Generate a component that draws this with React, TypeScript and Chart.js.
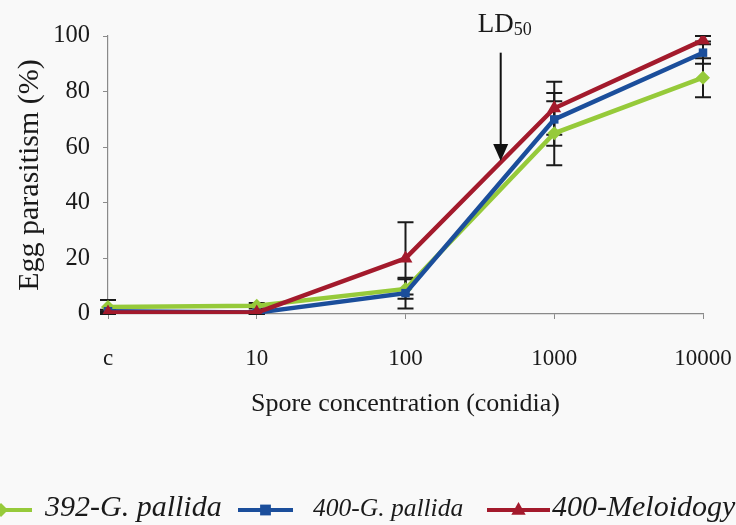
import React, { useEffect, useRef } from "react";
import { Chart, registerables } from "chart.js";

Chart.register(...registerables);

const FONT = '"Liberation Serif", "Times New Roman", serif';

// ---- data ----
const categories = ["c", "10", "100", "1000", "10000"];
const seriesNames = ["392-G. pallida", "400-G. pallida", "400-Meloidogyne"];
const green392 = [2.5, 3, 9, 65, 85];
const blue400 = [1, 0.5, 7.5, 70, 94];
const red400M = [0.5, 0.5, 20, 74, 98.5];
const errGreen = [2.5, 1, 3.5, 11.5, 7];
const errBlue = [0.5, 0.5, 5.5, 9.5, 4];
const errRed = [0.5, 0.5, 13, 9.5, 1.5];
const yMin = 0;
const yMax = 100;
const yStep = 20;
// LD50 annotation: position along category index and value range of arrow
const ld50Index = 2.64;
const ld50ArrowFrom = 94;
const ld50ArrowTo = 55;
const ld50TextValue = 101.5;

const colors = ["#96CA3A", "#1B4E9B", "#A31A2C"];
const pointStyles = ["rectRot", "rect", "triangle"];
const pointRadii = [7, 6, 8];
const seriesValues = [green392, blue400, red400M];
const seriesErrors = [errGreen, errBlue, errRed];

// legend layout (x of line start, line length, font size)
const legendLineStart = [-30, 238, 487];
const legendLineLen = [62, 55, 63];
const legendTextGap = [13, 20, 2];
const legendFontSize = [30, 25.5, 30];
const legendY = 510;

function drawMarker(ctx: CanvasRenderingContext2D, style: string, x: number, y: number, r: number, color: string) {
  ctx.save();
  ctx.fillStyle = color;
  ctx.beginPath();
  if (style === "rectRot") {
    ctx.moveTo(x, y - r);
    ctx.lineTo(x + r, y);
    ctx.lineTo(x, y + r);
    ctx.lineTo(x - r, y);
  } else if (style === "rect") {
    const s = r * 0.9;
    ctx.rect(x - s, y - s, 2 * s, 2 * s);
  } else {
    ctx.moveTo(x, y - r);
    ctx.lineTo(x + r * 0.9, y + r * 0.6);
    ctx.lineTo(x - r * 0.9, y + r * 0.6);
  }
  ctx.closePath();
  ctx.fill();
  ctx.restore();
}

const errorBarPlugin = {
  id: "errorBars",
  beforeDatasetsDraw(chart: any) {
    const ctx = chart.ctx as CanvasRenderingContext2D;
    const xs = chart.scales.x;
    const ys = chart.scales.y;
    ctx.save();
    ctx.strokeStyle = "#1a1a1a";
    ctx.lineWidth = 2;
    seriesValues.forEach((vals, i) => {
      vals.forEach((v, j) => {
        const e = seriesErrors[i][j];
        if (!e) return;
        const x = xs.getPixelForValue(j);
        const yt = ys.getPixelForValue(v + e);
        const yb = ys.getPixelForValue(v - e);
        ctx.beginPath();
        ctx.moveTo(x, yt);
        ctx.lineTo(x, yb);
        ctx.moveTo(x - 8, yt);
        ctx.lineTo(x + 8, yt);
        ctx.moveTo(x - 8, yb);
        ctx.lineTo(x + 8, yb);
        ctx.stroke();
      });
    });
    ctx.restore();
  },
};

const annotationPlugin = {
  id: "ld50",
  afterDraw(chart: any) {
    const ctx = chart.ctx as CanvasRenderingContext2D;
    const xs = chart.scales.x;
    const ys = chart.scales.y;
    const x = xs.getPixelForValue(ld50Index);
    const y1 = ys.getPixelForValue(ld50ArrowFrom);
    const y2 = ys.getPixelForValue(ld50ArrowTo);
    ctx.save();
    ctx.strokeStyle = "#111";
    ctx.fillStyle = "#111";
    ctx.lineWidth = 2;
    ctx.beginPath();
    ctx.moveTo(x, y1);
    ctx.lineTo(x, y2 - 14);
    ctx.stroke();
    ctx.beginPath();
    ctx.moveTo(x - 7.5, y2 - 17);
    ctx.lineTo(x + 7.5, y2 - 17);
    ctx.lineTo(x, y2);
    ctx.closePath();
    ctx.fill();
    // label
    const ty = ys.getPixelForValue(ld50TextValue);
    ctx.font = `27px ${FONT}`;
    ctx.textBaseline = "alphabetic";
    const w1 = ctx.measureText("LD").width;
    ctx.font = `18px ${FONT}`;
    const w2 = ctx.measureText("50").width;
    const sx = x - (w1 + w2) / 2 + 4;
    ctx.font = `27px ${FONT}`;
    ctx.fillStyle = "#1a1a1a";
    ctx.fillText("LD", sx, ty);
    ctx.font = `18px ${FONT}`;
    ctx.fillText("50", sx + w1, ty + 3);
    ctx.restore();
  },
};

const legendPlugin = {
  id: "customLegend",
  afterDraw(chart: any) {
    const ctx = chart.ctx as CanvasRenderingContext2D;
    ctx.save();
    chart.data.datasets.forEach((ds: any, i: number) => {
      const x0 = legendLineStart[i];
      const x1 = x0 + legendLineLen[i];
      ctx.strokeStyle = ds.borderColor;
      ctx.lineWidth = 4;
      ctx.beginPath();
      ctx.moveTo(x0, legendY);
      ctx.lineTo(x1, legendY);
      ctx.stroke();
      drawMarker(ctx, pointStyles[i], (x0 + x1) / 2, legendY, pointRadii[i], ds.borderColor);
      ctx.fillStyle = "#1a1a1a";
      ctx.font = `italic ${legendFontSize[i]}px ${FONT}`;
      ctx.textBaseline = "alphabetic";
      ctx.fillText(ds.label, x1 + legendTextGap[i], legendY + 6);
    });
    ctx.restore();
  },
};

export default function App() {
  const ref = useRef<HTMLCanvasElement | null>(null);
  useEffect(() => {
    document.body.style.margin = "0";
    document.body.style.background = "#f9f9f9";
    const canvas = ref.current!;
    const chart = new Chart(canvas, {
      type: "line",
      data: {
        labels: categories,
        datasets: seriesValues.map((vals, i) => ({
          label: seriesNames[i],
          data: vals,
          borderColor: colors[i],
          backgroundColor: colors[i],
          pointBackgroundColor: colors[i],
          pointBorderColor: colors[i],
          pointBorderWidth: 0,
          pointStyle: pointStyles[i] as any,
          pointRadius: pointRadii[i],
          borderWidth: 4.5,
          tension: 0,
          fill: false,
          order: 2 - i,
        })),
      },
      options: {
        animation: false,
        responsive: false,
        events: [],
        layout: { padding: { top: 36, right: 33, bottom: 0, left: 0 } },
        plugins: { legend: { display: false }, tooltip: { enabled: false } },
        scales: {
          x: {
            type: "category",
            offset: false,
            afterFit: (s: any) => {
              s.height = 211;
              s.paddingLeft = 0;
              s.paddingRight = 0;
            },
            grid: { display: true, drawOnChartArea: false, drawTicks: true, tickLength: 5, color: "#8a8a8a" },
            border: { color: "#8a8a8a", width: 1.2 },
            ticks: { color: "#1a1a1a", font: { family: FONT, size: 23 }, padding: 26, maxRotation: 0, autoSkip: false },
            title: {
              display: true,
              text: "Spore concentration (conidia)",
              color: "#1a1a1a",
              font: { family: FONT, size: 26 },
              padding: { top: 0, bottom: 105 },
            },
          },
          y: {
            min: yMin,
            max: yMax,
            afterFit: (s: any) => {
              s.width = 108;
              s.paddingTop = 0;
              s.paddingBottom = 0;
            },
            grid: { display: true, drawOnChartArea: false, drawTicks: true, tickLength: 5, color: "#8a8a8a" },
            border: { color: "#8a8a8a", width: 1.2 },
            ticks: { stepSize: yStep, color: "#1a1a1a", font: { family: FONT, size: 24.5 }, padding: 13 },
            title: {
              display: true,
              text: "Egg parasitism (%)",
              color: "#1a1a1a",
              font: { family: FONT, size: 30 },
              padding: { top: 12, bottom: 0 },
            },
          },
        },
      },
      plugins: [errorBarPlugin, annotationPlugin, legendPlugin],
    });
    return () => chart.destroy();
  }, []);
  return (
    <div style={{ width: 736, height: 525 }}>
      <canvas ref={ref} width={736} height={525} />
    </div>
  );
}
